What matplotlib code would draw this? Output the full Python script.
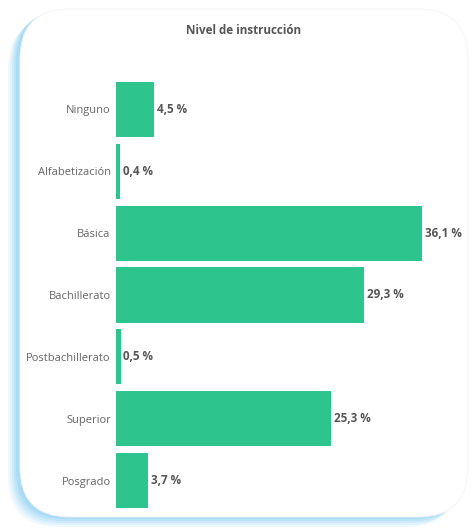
import matplotlib
matplotlib.use("Agg")
import matplotlib.pyplot as plt
from matplotlib.patches import FancyBboxPatch

categories = ["Ninguno", "Alfabetización", "Básica", "Bachillerato",
              "Postbachillerato", "Superior", "Posgrado"]
values = [4.5, 0.4, 36.1, 29.3, 0.5, 25.3, 3.7]
value_labels = ["4,5 %", "0,4 %", "36,1 %", "29,3 %", "0,5 %", "25,3 %", "3,7 %"]

plt.rcParams["font.family"] = ["Open Sans", "DejaVu Sans"]

W, H = 476, 531
fig = plt.figure(figsize=(W / 100, H / 100), dpi=100)
fig.patch.set_facecolor("white")

# background card, drawn in pixel coordinates
bg = fig.add_axes([0, 0, 1, 1], zorder=-1)
bg.set_xlim(0, W)
bg.set_ylim(0, H)
bg.axis("off")
glows = [(-12, -10, "#f0f9fe"), (-10, -8, "#e0f3fc"), (-8, -6, "#cdebfa"),
         (-6, -4, "#bce4f8"), (-4, -2, "#acdcf5")]
for dx, dy, col in glows:
    bg.add_patch(FancyBboxPatch((20 + dx, 14 + dy), 448, 508,
                                boxstyle="round,pad=0,rounding_size=50",
                                facecolor=col, edgecolor="none"))
bg.add_patch(FancyBboxPatch((20, 14), 448, 508,
                            boxstyle="round,pad=0,rounding_size=50",
                            facecolor="white", edgecolor="#f2f2f2",
                            linewidth=0.6))

ax = fig.add_axes([116.3 / W, 0.03625, 338.8 / W, 0.8164])
ax.set_facecolor("none")
ypos = list(range(len(categories)))
ax.barh(ypos, values, height=0.89, color="#2dc48d")
for y, v, lab in zip(ypos, values, value_labels):
    ax.text(v + 0.35, y, lab, va="center", ha="left", fontsize=8.4,
            fontweight="bold", color="#555555")

ax.set_xlim(0, 40)
ax.set_ylim(6.5, -0.5)
ax.set_yticks(ypos)
ax.set_yticklabels(categories, fontsize=8, color="#666666")
ax.tick_params(axis="y", length=0, pad=4)
ax.set_xticks([])
for s in ax.spines.values():
    s.set_visible(False)

fig.text(244 / W, 1 - 30 / H, "Nivel de instrucción", ha="center", va="center",
         fontsize=8.4, fontweight="bold", color="#555555")

fig.savefig("out.png", dpi=100)
